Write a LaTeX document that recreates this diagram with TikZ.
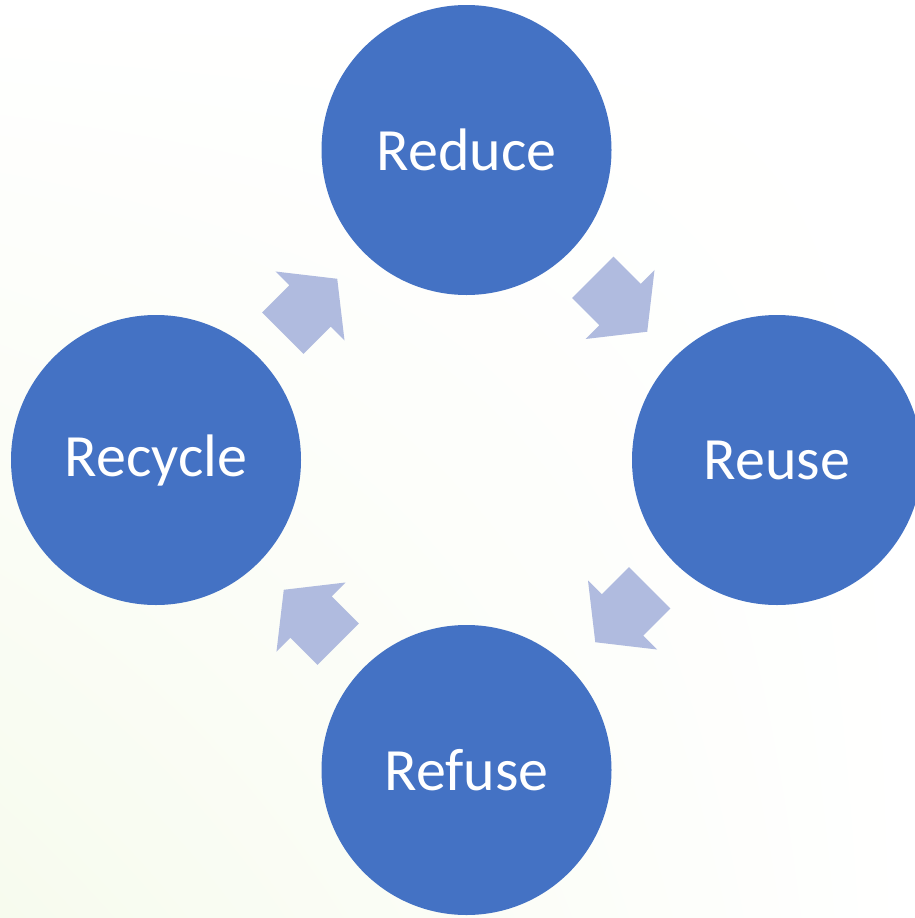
\documentclass[tikz,border=0pt]{standalone}
\usepackage{fontspec}
\setmainfont{Carlito}
\usetikzlibrary{shadings}
\definecolor{circblue}{RGB}{68,114,196}
\definecolor{arrowblue}{RGB}{176,187,223}
\definecolor{bggreen}{RGB}{247,251,238}
\tikzset{
  stage/.style={circle, fill=circblue, draw=none, minimum size=290pt, inner sep=0pt,
    text=white, font=\fontsize{60}{64}\selectfont},
  blockarrow/.style={fill=arrowblue, draw=none}
}
\newcommand{\cyclearrow}[3]{%
  \begin{scope}[shift={(#1,#2)}, rotate=#3]
    \fill[blockarrow] (-38.5,29.3) -- (0,29.3) -- (0,48.8) -- (38.5,0)
      -- (0,-48.8) -- (0,-29.3) -- (-38.5,-29.3) -- cycle;
  \end{scope}}
\begin{document}
\begin{tikzpicture}[x=1pt, y=-1pt]
  \useasboundingbox (0,0) rectangle (915,918);
  \clip (0,0) rectangle (915,918);
  \shade[upper left=white, upper right=white, lower right=white, lower left=bggreen]
    (0,0) rectangle (915,918);
  \node[stage] (reduce) at (466.5,150) {Reduce};
  \node[stage] (reuse) at (777,460) {Reuse};
  \node[stage] (refuse) at (466.5,770) {Refuse};
  \node[stage] (recycle) at (156,460) {Recycle};
  \cyclearrow{620}{304.5}{-45}
  \cyclearrow{622.5}{615}{-135}
  \cyclearrow{311}{617}{135}
  \cyclearrow{310}{306}{45}
\end{tikzpicture}
\end{document}
